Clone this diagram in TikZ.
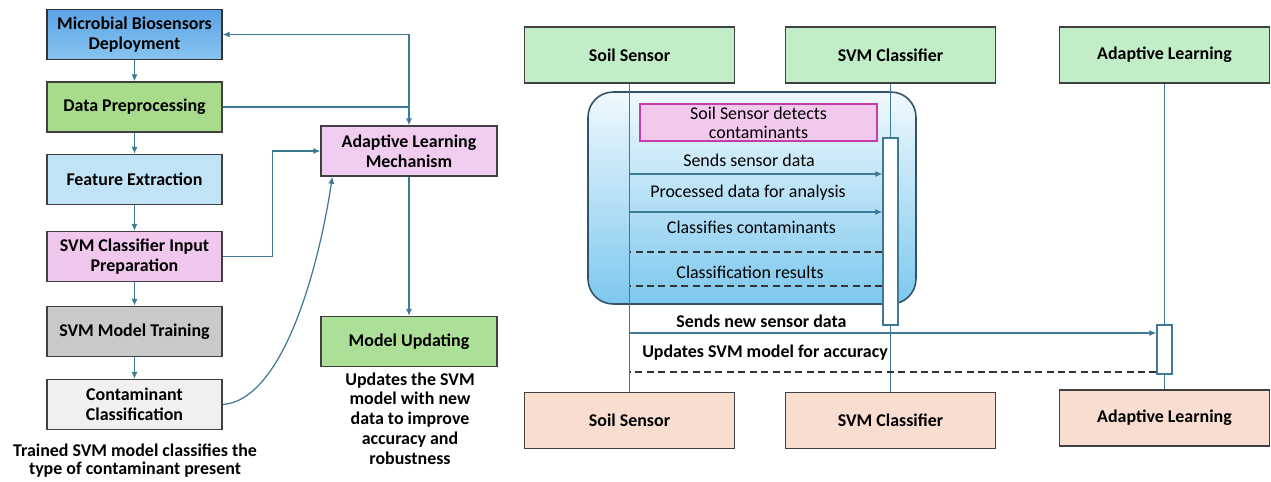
\documentclass[tikz,border=0pt]{standalone}
\usepackage{fontspec}
\setmainfont{Carlito}
\usetikzlibrary{positioning, arrows.meta, calc}

\definecolor{lnk}{RGB}{62,122,150}
\definecolor{mbTop}{RGB}{92,164,230}
\definecolor{mbBot}{RGB}{136,196,240}
\definecolor{dpGreen}{RGB}{168,220,140}
\definecolor{feBlue}{RGB}{192,228,246}
\definecolor{inPink}{RGB}{240,200,238}
\definecolor{trGray}{RGB}{201,201,201}
\definecolor{ccGray}{RGB}{240,240,240}
\definecolor{alPink}{RGB}{240,205,239}
\definecolor{muGreen}{RGB}{172,223,152}
\definecolor{headGreen}{RGB}{194,238,199}
\definecolor{footPeach}{RGB}{249,221,208}
\definecolor{evtPink}{RGB}{242,200,236}
\definecolor{evtEdge}{RGB}{196,61,168}
\definecolor{grpTop}{RGB}{240,249,253}
\definecolor{grpBot}{RGB}{125,200,238}
\definecolor{grpEdge}{RGB}{50,84,104}

\begin{document}
\begin{tikzpicture}[x=0.02cm, y=-0.02cm,
      box/.style={draw=black!75, line width=0.8pt, minimum width=3.5cm, minimum height=1cm, align=center, font=\bfseries\fontsize{10.2}{11.2}\selectfont},
      note/.style={align=center, inner sep=0pt, font=\bfseries\fontsize{10.2}{11.3}\selectfont},
      head/.style={draw=black!75, line width=0.8pt, minimum width=4.2cm, minimum height=1.12cm, fill=headGreen, font=\bfseries\fontsize{10.2}{11.5}\selectfont},
      foot/.style={head, fill=footPeach},
      grpbox/.style={draw=grpEdge, line width=0.9pt, rounded corners=0.5cm, top color=grpTop, bottom color=grpBot, minimum width=6.56cm, minimum height=4.24cm},
      evt/.style={draw=evtEdge, line width=0.8pt, fill=evtPink, minimum width=4.74cm, minimum height=0.74cm, inner sep=0pt, align=center, font=\fontsize{10.2}{10.8}\selectfont},
      bar/.style={draw=lnk, line width=0.7pt, fill=white, minimum width=0.3cm, inner sep=0pt},
      lbl/.style={inner sep=0pt, font=\fontsize{10.2}{11.5}\selectfont},
      blbl/.style={lbl, font=\bfseries\fontsize{10.2}{11.5}\selectfont},
      arr/.style={-{Latex[length=4pt,width=3.5pt]}, draw=lnk, line width=0.7pt},
      life/.style={draw=lnk, line width=0.7pt},
      msg/.style={-{Latex[length=4pt,width=3.5pt]}, draw=lnk, line width=0.7pt},
      ret/.style={draw=black!80, line width=0.8pt, dash pattern=on 4pt off 2.5pt}]
      \useasboundingbox (0,0) rectangle (1271,481);

      % process flow
      \node[box, top color=mbTop, bottom color=mbBot, draw=black!80] (mbd) at (134.5,34.5) {Microbial Biosensors\\Deployment};
      \node[box, fill=dpGreen] (dpp) at (134.5,107) {Data Preprocessing};
      \node[box, fill=feBlue]  (fex) at (134.5,179.5) {Feature Extraction};
      \node[box, fill=inPink]  (sip) at (134.5,256.5) {SVM Classifier Input\\Preparation};
      \node[box, fill=trGray]  (smt) at (134.5,331.5) {SVM Model Training};
      \node[box, fill=ccGray]  (ccl) at (134.5,404.5) {Contaminant\\Classification};
      \node[note, font=\bfseries\fontsize{10.2}{10.3}\selectfont] (ccnote) at (135,461) {Trained SVM model classifies the\\type of contaminant present};
      \node[box, fill=alPink, minimum width=3.52cm] (alm) at (409,151) {Adaptive Learning\\Mechanism};
      \node[box, fill=muGreen, minimum width=3.52cm] (mup) at (409,341.5) {Model Updating};
      \node[note] (munote) at (410,418.5) {Updates the SVM\\model with new\\data to improve\\accuracy and\\robustness};

      \draw[arr](mbd)--(dpp);\draw[arr](dpp)--(fex);\draw[arr](fex)--(sip);\draw[arr](sip)--(smt);\draw[arr](smt)--(ccl);
      \coordinate (fbk) at (alm.north |- dpp.east);
      \draw[life] (dpp.east) -- (fbk);
      \draw[arr] (fbk) -- (alm.north);
      \draw[arr] (fbk) |- (mbd.east);
      \draw[arr] (sip.east) -- ++(50,0) |- (alm.west);
      \draw[arr] (ccl.east) .. controls (285,400) and (320,260) .. ([xshift=0.24cm]alm.south west);
      \draw[arr] (alm) -- (mup);

      % sequence view
      \node[grpbox] (grp) at (752,198) {};
      \node[head] (ssTop) at (629.5,55) {Soil Sensor};
      \node[head] (svTop) at (890.5,55) {SVM Classifier};
      \node[head] (alTop) at (1164.5,55) {Adaptive Learning};
      \node[foot] (ssBot) at (629.5,420.5) {Soil Sensor};
      \node[foot] (svBot) at (890.5,420.5) {SVM Classifier};
      \node[foot] (alBot) at (1164.5,418) {Adaptive Learning};
      \draw[life] (ssTop) -- (ssBot);
      \draw[life] (svTop) -- (svBot);
      \draw[life] (alTop) -- (alBot);

      \node[evt] (det) at (758.5,122.5) {Soil Sensor detects\\contaminants};
      \node[bar, minimum height=3.74cm] (svBar) at (890.5,231.5) {};
      \node[bar, minimum height=0.98cm] (alBar) at (1164.5,349.5) {};

      \draw[msg] (ssTop |- 0,174) -- (svBar.west |- 0,174);
      \draw[msg] (ssTop |- 0,212) -- (svBar.west |- 0,212);
      \draw[ret] (svBar.west |- 0,252) -- (ssTop |- 0,252);
      \draw[ret] (svBar.west |- 0,286) -- (ssTop |- 0,286);
      \draw[msg] (ssTop |- 0,333) -- (alBar.west |- 0,333);
      \draw[ret] (alBar.west |- 0,372) -- (ssTop |- 0,372);

      \node[lbl] (m1) at (749,160) {Sends sensor data};
      \node[lbl] (m2) at (748,193) {Processed data for analysis};
      \node[lbl] (m3) at (751.5,227) {Classifies contaminants};
      \node[lbl] (m4) at (750,272) {Classification results};
      \node[blbl] (m5) at (761.5,321) {Sends new sensor data};
      \node[blbl] (m6) at (765,353) {Updates SVM model for accuracy};
    \end{tikzpicture}
\end{document}
